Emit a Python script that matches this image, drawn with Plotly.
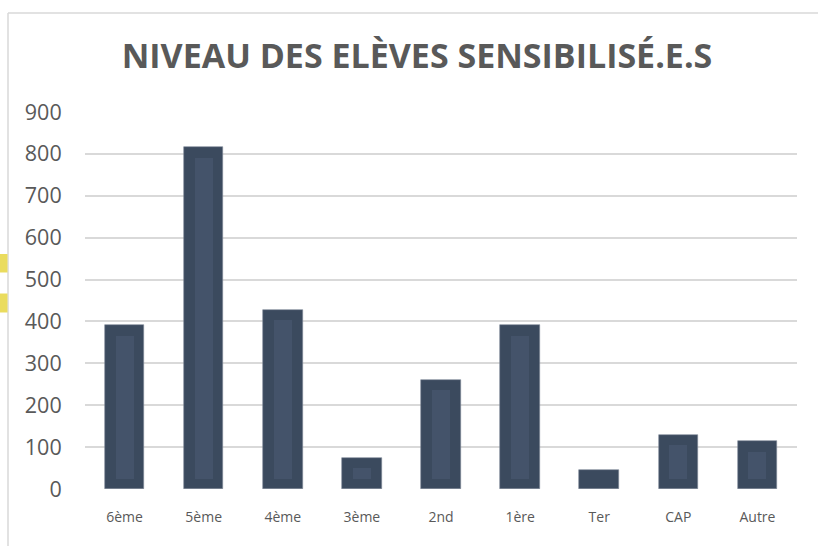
import plotly.graph_objects as go

categories = ["6ème", "5ème", "4ème", "3ème", "2nd", "1ère", "Ter", "CAP", "Autre"]
values = [391, 816, 428, 75, 261, 391, 45, 130, 114]
y_ticks = [0, 100, 200, 300, 400, 500, 600, 700, 800, 900]

title_text = "NIVEAU DES ELÈVES SENSIBILISÉ.E.S"
outer_color = "#3B4A5E"
inner_color = "#44536A"
inset = 25  # inner highlight inset in data units

inner_vals = [max(v - 2 * inset, 0) for v in values]

W, H = 818, 546
L, R, T, B = 85, 21, 112, 57

fig = go.Figure()
fig.add_trace(go.Bar(
    x=categories, y=values, width=0.5,
    marker=dict(color=outer_color, line=dict(color="#7F8A99", width=0.6)),
    hoverinfo="x+y", showlegend=False,
))
fig.add_trace(go.Bar(
    x=categories, y=inner_vals, base=[inset] * len(values), width=0.228,
    marker=dict(color=inner_color, line=dict(width=0)),
    hoverinfo="skip", showlegend=False,
))

pw = W - L - R
ph = H - T - B
def px_x(p):
    return (p - L) / pw
def px_y(p):
    return (H - B - p) / ph

shapes = [
    # chart box border (top and left)
    dict(type="line", xref="paper", yref="paper", x0=px_x(8), x1=px_x(830), y0=px_y(13), y1=px_y(13),
         line=dict(color="#D9D9D9", width=1.5), layer="below"),
    dict(type="line", xref="paper", yref="paper", x0=px_x(8), x1=px_x(8), y0=px_y(13), y1=px_y(560),
         line=dict(color="#D9D9D9", width=1.5), layer="below"),
    # yellow marks at left edge (background)
    dict(type="rect", xref="paper", yref="paper", x0=px_x(-2), x1=px_x(7.5), y0=px_y(254), y1=px_y(272.5),
         fillcolor="#EADC5E", line=dict(width=0), layer="below"),
    dict(type="rect", xref="paper", yref="paper", x0=px_x(-2), x1=px_x(7.5), y0=px_y(293.5), y1=px_y(312.5),
         fillcolor="#EADC5E", line=dict(width=0), layer="below"),
]

fig.update_layout(
    width=W, height=H,
    margin=dict(l=L, r=R, t=T, b=B, pad=0),
    paper_bgcolor="white", plot_bgcolor="white",
    barmode="overlay",
    font=dict(family="Open Sans", color="#595959"),
    title=dict(
        text="<b>" + title_text + "</b>",
        x=417 / W, xanchor="center", xref="container",
        y=1 - 56 / H, yanchor="middle", yref="container",
        font=dict(family="Open Sans", size=34, color="#595959"),
    ),
    xaxis=dict(
        type="category", range=[-0.5, len(categories) - 0.5],
        showgrid=False, zeroline=False, showline=False,
        ticks="outside", ticklen=15, tickcolor="rgba(0,0,0,0)",
        tickfont=dict(size=14, color="#595959"),
        fixedrange=True,
    ),
    yaxis=dict(
        range=[0, 900], tickvals=y_ticks,
        showgrid=True, gridcolor="#D9D9D9", gridwidth=1.5,
        zeroline=False, showline=False,
        ticks="outside", ticklen=18, tickcolor="rgba(0,0,0,0)",
        tickfont=dict(size=21.5, color="#595959"),
        fixedrange=True,
    ),
    shapes=shapes,
    bargap=0,
)

fig.write_html(
    "out.html",
    config={"displayModeBar": False},
    post_script="document.body.style.margin='0';document.body.style.overflow='hidden';",
)
